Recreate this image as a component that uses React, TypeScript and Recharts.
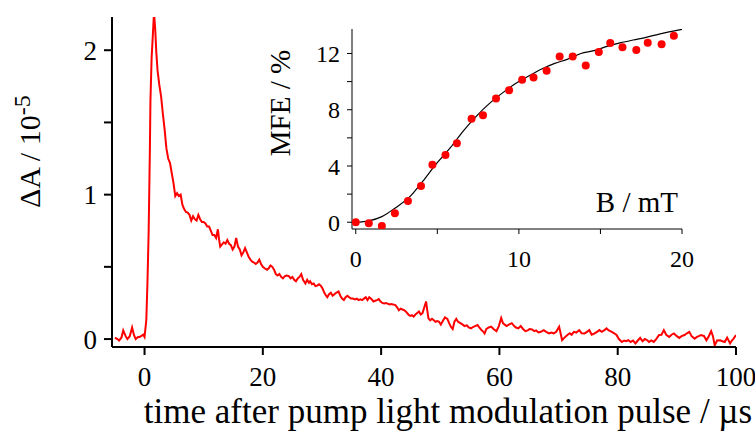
import React from "react"
import { LineChart, ComposedChart, Line, Scatter, XAxis, YAxis, Label } from "recharts"

// transient absorption trace (ΔA in units of 1e-5) vs time in µs
const timeUs = [
  -5.0, -4.6, -4.3, -3.9, -3.6, -3.2, -2.9, -2.5, -2.1, -1.8, -1.5, -1.1, -0.8, -0.4, -0.2, 0.0,
  0.3, 0.5, 0.7, 0.9, 1.0, 1.2, 1.4, 1.6, 1.8, 2.0, 2.2, 2.5, 2.8, 3.1, 3.4, 3.7, 4.0, 4.3, 4.6, 4.9,
  5.2, 5.5, 5.8, 6.1, 6.4, 6.7, 7.0, 7.3, 7.6, 7.9, 8.2, 8.5, 8.8, 9.1, 9.4, 9.7, 10.0, 10.3, 10.6,
  10.9, 11.2, 11.5, 11.8, 12.1, 12.4, 12.6, 12.8, 13.1, 13.4, 13.7, 14.0, 14.3, 14.6, 14.9, 15.2,
  15.5, 15.8, 16.1, 16.4, 16.7, 17.0, 17.3, 17.6, 17.9, 18.2, 18.5, 18.8, 19.1, 19.4, 19.7, 20.0,
  20.3, 20.7, 21.0, 21.3, 21.6, 21.9, 22.2, 22.5, 22.8, 23.1, 23.4, 23.7, 24.0, 24.4, 24.7, 25.0,
  25.3, 25.6, 25.9, 26.2, 26.5, 26.8, 27.2, 27.5, 27.8, 28.0, 28.3, 28.6, 28.9, 29.2, 29.5, 29.8,
  30.1, 30.4, 30.7, 30.9, 31.2, 31.5, 31.8, 32.1, 32.4, 32.8, 33.1, 33.4, 33.7, 34.0, 34.3, 34.6,
  34.9, 35.2, 35.6, 35.9, 36.2, 36.5, 36.8, 37.1, 37.4, 37.7, 38.0, 38.3, 38.7, 39.0, 39.3, 39.6,
  39.9, 40.2, 40.5, 40.8, 41.1, 41.4, 41.7, 42.0, 42.4, 42.7, 43.0, 43.3, 43.6, 43.9, 44.2, 44.6,
  44.9, 45.2, 45.5, 45.8, 46.1, 46.4, 46.7, 47.0, 47.3, 47.6, 47.8, 48.0, 48.3, 48.6, 48.9, 49.2,
  49.5, 49.8, 50.1, 50.5, 50.8, 51.2, 51.5, 51.8, 52.1, 52.4, 52.7, 53.0, 53.4, 53.8, 54.1, 54.5,
  54.8, 55.2, 55.6, 55.9, 56.3, 56.6, 57.0, 57.3, 57.5, 57.8, 58.2, 58.6, 59.0, 59.5, 59.9, 60.3,
  60.6, 60.9, 61.2, 61.6, 62.1, 62.5, 62.8, 63.2, 63.6, 64.0, 64.4, 64.8, 65.1, 65.5, 65.9, 66.2,
  66.6, 67.0, 67.5, 67.9, 68.4, 68.8, 69.2, 69.6, 70.1, 70.4, 70.6, 71.0, 71.5, 71.9, 72.2, 72.6,
  73.0, 73.5, 73.9, 74.4, 74.8, 75.2, 75.6, 76.1, 76.5, 76.9, 77.3, 77.7, 78.1, 78.5, 79.0, 79.4,
  79.8, 80.2, 80.7, 81.1, 81.4, 81.8, 82.2, 82.6, 83.0, 83.4, 83.8, 84.2, 84.6, 85.0, 85.3, 85.7,
  86.1, 86.5, 87.0, 87.4, 87.8, 88.2, 88.7, 89.1, 89.5, 90.0, 90.4, 90.8, 91.3, 91.7, 92.1, 92.5,
  93.0, 93.4, 93.7, 94.1, 94.6, 95.0, 95.4, 95.8, 96.1, 96.4, 96.8, 97.3, 97.7, 98.1, 98.5, 99.0,
  99.3, 99.6, 100.0,
]

const deltaA = [
  0.01, 0.0, -0.01, 0.01, 0.06, 0.02, 0.0, 0.02, 0.08, 0.03, 0.0, 0.015, 0.015, 0.025, 0.03, 0.015,
  0.13, 0.4, 0.75, 1.3, 1.65, 1.95, 2.1, 2.26, 2.15, 1.98, 1.86, 1.76, 1.68, 1.56, 1.45, 1.32, 1.25, 1.22, 1.15, 1.08,
  0.99, 1.01, 0.99, 1.0, 0.93, 0.9, 0.88, 0.875, 0.86, 0.82, 0.85, 0.83, 0.82, 0.86, 0.83, 0.81, 0.81, 0.8, 0.78,
  0.78, 0.75, 0.72, 0.72, 0.7, 0.76, 0.69, 0.64, 0.655, 0.67, 0.66, 0.685, 0.66, 0.65, 0.62, 0.64,
  0.7, 0.64, 0.62, 0.58, 0.6, 0.63, 0.6, 0.57, 0.55, 0.535, 0.53, 0.52, 0.53, 0.55, 0.52, 0.5,
  0.49, 0.48, 0.49, 0.51, 0.5, 0.48, 0.45, 0.44, 0.45, 0.43, 0.42, 0.435, 0.44, 0.436, 0.42, 0.43,
  0.41, 0.4, 0.42, 0.43, 0.45, 0.41, 0.385, 0.41, 0.39, 0.4, 0.38, 0.385, 0.367, 0.37, 0.38, 0.37,
  0.35, 0.32, 0.3, 0.29, 0.31, 0.32, 0.3, 0.31, 0.32, 0.33, 0.3, 0.28, 0.27, 0.29, 0.3, 0.29,
  0.28, 0.28, 0.275, 0.28, 0.27, 0.275, 0.27, 0.28, 0.29, 0.27, 0.29, 0.28, 0.26, 0.265, 0.27, 0.277,
  0.26, 0.25, 0.247, 0.25, 0.245, 0.24, 0.242, 0.24, 0.235, 0.22, 0.2, 0.21, 0.205, 0.2, 0.19, 0.17,
  0.16, 0.165, 0.155, 0.17, 0.18, 0.19, 0.17, 0.18, 0.22, 0.26, 0.2, 0.143, 0.13, 0.14, 0.13, 0.12,
  0.125, 0.12, 0.1, 0.13, 0.15, 0.14, 0.11, 0.085, 0.07, 0.12, 0.14, 0.12, 0.11, 0.1, 0.09, 0.095,
  0.08, 0.074, 0.085, 0.09, 0.097, 0.08, 0.06, 0.05, 0.039, 0.07, 0.08, 0.086, 0.07, 0.055, 0.09, 0.145,
  0.11, 0.1, 0.09, 0.1, 0.11, 0.09, 0.08, 0.074, 0.09, 0.07, 0.055, 0.06, 0.07, 0.067, 0.055, 0.06,
  0.046, 0.05, 0.062, 0.05, 0.039, 0.045, 0.039, 0.05, 0.086, 0.03, -0.008, 0.01, 0.028, 0.04, 0.03, 0.05,
  0.045, 0.062, 0.04, 0.039, 0.05, 0.062, 0.03, 0.039, 0.05, 0.062, 0.05, 0.06, 0.074, 0.06, 0.05, 0.04,
  0.028, 0.0, -0.02, -0.01, -0.015, -0.008, -0.02, -0.01, -0.03, -0.01, 0.008, -0.015, 0.0, -0.008, -0.02, -0.01,
  -0.02, 0.0, 0.028, 0.03, 0.062, 0.03, 0.015, 0.03, 0.039, 0.02, 0.008, 0.02, 0.028, 0.04, 0.05, 0.02,
  0.003, 0.015, 0.02, 0.028, 0.02, -0.008, 0.02, 0.055, 0.02, -0.044, -0.01, -0.008, -0.015, -0.02, 0.01, -0.03,
  -0.01, 0.003, 0.028,
]

const mainXTicks = [0, 20, 40, 60, 80, 100]
const mainYTicks = [0, 0.5, 1, 1.5, 2]

// inset: magnetic field effect vs field
const fieldMT = [0.0, 0.8, 1.6, 2.4, 3.2, 4.0, 4.7, 5.5, 6.2, 7.1, 7.8, 8.6, 9.4, 10.2, 10.9, 11.7, 12.5, 13.3, 14.1, 14.9, 15.6, 16.35, 17.2, 17.9, 18.75, 19.5]
const mfePct = [0.0, -0.07, -0.26, 0.64, 1.51, 2.58, 4.09, 4.78, 5.61, 7.36, 7.6, 8.79, 9.38, 10.14, 10.3, 10.78, 11.78, 11.78, 11.14, 12.1, 12.74, 12.44, 12.25, 12.77, 12.65, 13.26]

const fitField = [0, 0.8, 1.6, 2.4, 3.3, 4.1, 4.9, 5.8, 6.6, 7.4, 8.2, 9.0, 9.8, 10.6, 11.4, 12.2, 13.0, 13.8, 14.6, 15.4, 16.2, 17.0, 17.8, 18.6, 19.3, 20]
const fitMfe = [0, 0.1, 0.4, 1.0, 1.8, 2.9, 4.1, 5.3, 6.5, 7.55, 8.45, 9.2, 9.86, 10.4, 10.9, 11.3, 11.6, 12.0, 12.2, 12.5, 12.75, 12.96, 13.15, 13.38, 13.55, 13.72]

const insetXTicks = [0, 5, 10, 15, 20]
const insetYTicks = [0, 2, 4, 6, 8, 10, 12]

const traceData = timeUs.map((t, i) => ({ t, dA: deltaA[i] }))
const mfeData = fieldMT.map((b, i) => ({ b, mfe: mfePct[i] }))
const fitData = fitField.map((b, i) => ({ b, mfe: fitMfe[i] }))

const FONT = "'Liberation Serif', 'Times New Roman', serif"

// tick label that skips the minor ticks; dy centres (y axis) or hangs (x axis) the text
const makeTick = (size: number, dy: string, showIf: (v: number) => boolean) => (props: any) => {
  const { x, y, payload, textAnchor } = props
  if (!showIf(payload.value)) return <g />
  return (
    <text x={x} y={y} dy={dy} textAnchor={textAnchor} fontSize={size} style={{ fontFamily: FONT }} fill="#000">
      {payload.value}
    </text>
  )
}

const MainYTitle = () => (
  <text transform="translate(40,208) rotate(-90)" fontSize={30} style={{ fontFamily: FONT }} fill="#000">
    ΔA / 10<tspan dy={-10} fontSize={24}>-5</tspan>
  </text>
)

const MainXTitle = () => (
  <text x={448} y={423} textAnchor="middle" fontSize={35} style={{ fontFamily: FONT }} fill="#000">
    time after pump light modulation pulse / µs
  </text>
)

const InsetYTitle = () => (
  <text transform="translate(40,103) rotate(-90)" textAnchor="middle" fontSize={29} style={{ fontFamily: FONT }} fill="#000">
    MFE / %
  </text>
)

const InsetXTitle = () => (
  <text x={428} y={212} textAnchor="end" fontSize={29} style={{ fontFamily: FONT }} fill="#000">
    B / mT
  </text>
)

export default function App() {
  return (
    <div style={{ position: "absolute", left: 0, top: 0, width: 755, height: 431, background: "#fff", fontFamily: FONT }}>
      <LineChart width={755} height={431} data={traceData} margin={{ top: 17, right: 19, bottom: 0, left: 0 }}>
        <XAxis
          dataKey="t"
          type="number"
          domain={[-5.5, 100]}
          allowDataOverflow
          ticks={mainXTicks}
          interval={0}
          height={84}
          tickSize={8}
          tickMargin={12}
          axisLine={{ stroke: "#000", strokeWidth: 2 }}
          tickLine={{ stroke: "#000", strokeWidth: 2 }}
          tick={makeTick(27, "0.71em", () => true)}
        >
          <Label content={MainXTitle} />
        </XAxis>
        <YAxis
          type="number"
          domain={[-0.055, 2.23]}
          allowDataOverflow
          ticks={mainYTicks}
          interval={0}
          width={112}
          tickSize={8}
          tickMargin={7}
          axisLine={{ stroke: "#000", strokeWidth: 2 }}
          tickLine={{ stroke: "#000", strokeWidth: 2 }}
          tick={makeTick(27, "0.355em", (v) => Number.isInteger(v))}
        >
          <Label content={MainYTitle} />
        </YAxis>
        <Line dataKey="dA" stroke="#ff0000" strokeWidth={2} dot={false} isAnimationActive={false} />
      </LineChart>

      <div style={{ position: "absolute", left: 250, top: 0 }}>
        <ComposedChart width={450} height={290} margin={{ top: 29, right: 18, bottom: 0, left: 0 }}>
          <XAxis
            dataKey="b"
            type="number"
            domain={[-0.23, 20]}
            allowDataOverflow
            ticks={insetXTicks}
            interval={0}
            height={61}
            tickSize={5}
            tickMargin={16}
            axisLine={{ stroke: "#000", strokeWidth: 1 }}
            tickLine={{ stroke: "#000", strokeWidth: 1 }}
            tick={makeTick(24, "0.71em", (v) => v % 10 === 0)}
          >
            <Label content={InsetXTitle} />
          </XAxis>
          <YAxis
            dataKey="mfe"
            type="number"
            domain={[-0.48, 13.74]}
            allowDataOverflow
            ticks={insetYTicks}
            interval={0}
            width={102}
            tickSize={5}
            tickMargin={7}
            axisLine={{ stroke: "#000", strokeWidth: 1 }}
            tickLine={{ stroke: "#000", strokeWidth: 1 }}
            tick={makeTick(24, "0.355em", (v) => v % 4 === 0)}
          >
            <Label content={InsetYTitle} />
          </YAxis>
          <Line data={fitData} dataKey="mfe" type="monotone" stroke="#000" strokeWidth={1.2} dot={false} isAnimationActive={false} />
          <Scatter
            data={mfeData}
            dataKey="mfe"
            fill="#ff0000"
            isAnimationActive={false}
            shape={(p: any) => <circle cx={p.cx} cy={p.cy} r={4} fill="#ff0000" />}
          />
        </ComposedChart>
      </div>
    </div>
  )
}
